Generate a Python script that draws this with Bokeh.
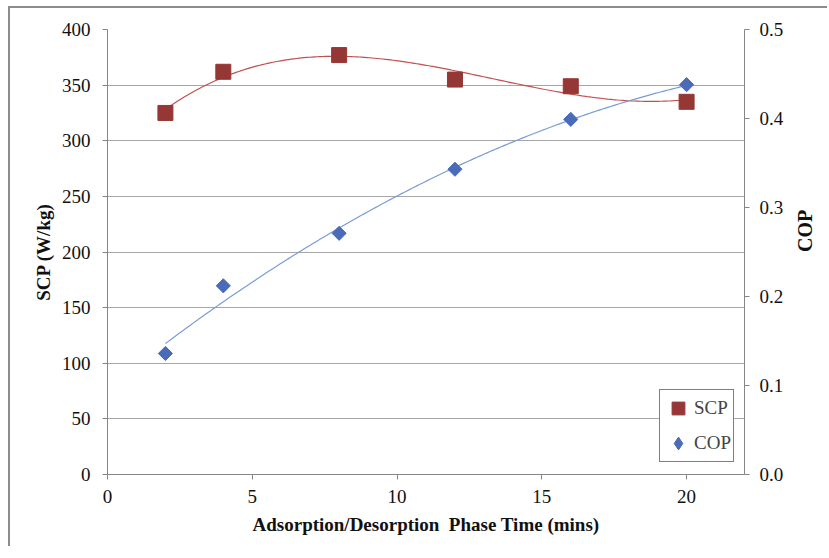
import numpy as np
from bokeh.plotting import figure
from bokeh.models import (Range1d, LinearAxis, Legend, LegendItem, FixedTicker,
                          PrintfTickFormatter)
from bokeh.embed import file_html
from bokeh.resources import INLINE

# ---- data ----
phase_time = [2, 4, 8, 12, 16, 20]
scp = [325, 362, 377, 355, 349, 335]
cop = [0.136, 0.212, 0.271, 0.343, 0.399, 0.438]
x_ticks = [0, 5, 10, 15, 20]
scp_ticks = [0, 50, 100, 150, 200, 250, 300, 350, 400]
cop_ticks = [0.0, 0.1, 0.2, 0.3, 0.4, 0.5]

SERIF = "Liberation Serif"
AX = "#868686"

p = figure(width=819, height=540, output_backend="svg", toolbar_location=None,
           x_range=Range1d(0, 22), y_range=Range1d(0, 400),
           min_border_left=97, min_border_right=82, min_border_top=21, min_border_bottom=74)
p.styles = {"border-left": "2px solid #8c8c8c", "border-top": "2px solid #8c8c8c",
            "margin-left": "8px", "margin-top": "6px"}
p.outline_line_color = None
p.extra_y_ranges = {"cop": Range1d(0, 0.5)}

# grid
p.xgrid.grid_line_color = None
p.ygrid.grid_line_color = "#a6a6a6"
p.ygrid.grid_line_width = 1

def style_axis(ax):
    ax.axis_line_color = AX
    ax.major_tick_line_color = AX
    ax.minor_tick_line_color = None
    ax.major_tick_in = 0
    ax.major_tick_out = 5
    ax.major_label_text_font = SERIF
    ax.major_label_text_font_size = "19px"
    ax.major_label_text_color = "#111111"
    ax.axis_label_text_font = SERIF
    ax.axis_label_text_font_size = "19px"
    ax.axis_label_text_font_style = "bold"
    ax.axis_label_text_color = "#111111"

xa = p.xaxis[0]
style_axis(xa)
xa.ticker = FixedTicker(ticks=x_ticks)
xa.axis_label = "Adsorption/Desorption\u2002Phase Time (mins)"
xa.major_label_standoff = 10
xa.axis_label_standoff = 8

ya = p.yaxis[0]
style_axis(ya)
ya.ticker = FixedTicker(ticks=scp_ticks)
ya.axis_label = "SCP (W/kg)"
ya.major_label_standoff = 12
ya.axis_label_standoff = 5

ra = LinearAxis(y_range_name="cop")
style_axis(ra)
ra.ticker = FixedTicker(ticks=cop_ticks)
ra.formatter = PrintfTickFormatter(format="%.1f")
ra.major_label_standoff = 10
p.add_layout(ra, "right")

# second, bare right axis that only carries the "COP" title (reads bottom-to-top)
rt = LinearAxis(y_range_name="cop", bounds=(0, 0.4427))
rt.ticker = FixedTicker(ticks=[])
rt.axis_line_color = None
rt.major_tick_line_color = None
rt.minor_tick_line_color = None
rt.major_tick_out = 0
rt.major_label_text_font_size = "0px"
rt.axis_label = "COP"
rt.axis_label_orientation = np.pi / 2
rt.axis_label_text_font = SERIF
rt.axis_label_text_font_size = "20px"
rt.axis_label_text_font_style = "bold"
rt.axis_label_text_color = "#111111"
rt.axis_label_standoff = 18
p.add_layout(rt, "right")

# trend lines (fits of the data)
xs = np.linspace(min(phase_time), max(phase_time), 200)
scp_fit = np.polyval(np.polyfit(phase_time, scp, 3), xs)
cop_fit = np.polyval(np.polyfit(phase_time, cop, 2), xs)
p.line(xs, scp_fit, line_color="#c0504d", line_width=1.2)
p.line(xs, cop_fit, line_color="#7b9bd8", line_width=1.2, y_range_name="cop")

SCP_C = "#953735"
COP_C = "#4a6cb8"
r_scp = p.scatter(phase_time, scp, marker="square", size=15,
                  fill_color=SCP_C, line_color=SCP_C)
# diamond (hidden under the rotated squares) used as the legend key
r_cop_key = p.scatter(phase_time, cop, marker="diamond", size=12,
                      fill_color=COP_C, line_color=COP_C, y_range_name="cop")
r_cop = p.scatter(phase_time, cop, marker="square", size=10, angle=np.pi / 4,
                  fill_color=COP_C, line_color=COP_C, y_range_name="cop")

legend = Legend(items=[LegendItem(label="SCP", renderers=[r_scp]),
                       LegendItem(label="COP", renderers=[r_cop_key])],
                location=(552, 12))
legend.label_text_font = SERIF
legend.label_text_font_size = "19px"
legend.label_standoff = 0
legend.glyph_width = 32
legend.glyph_height = 32
legend.spacing = 3
legend.padding = 2
legend.margin = 0
legend.border_line_color = "black"
legend.border_line_width = 1
legend.background_fill_color = "white"
legend.background_fill_alpha = 1
p.add_layout(legend, "center")

open("out.html", "w").write(file_html(p, INLINE))
